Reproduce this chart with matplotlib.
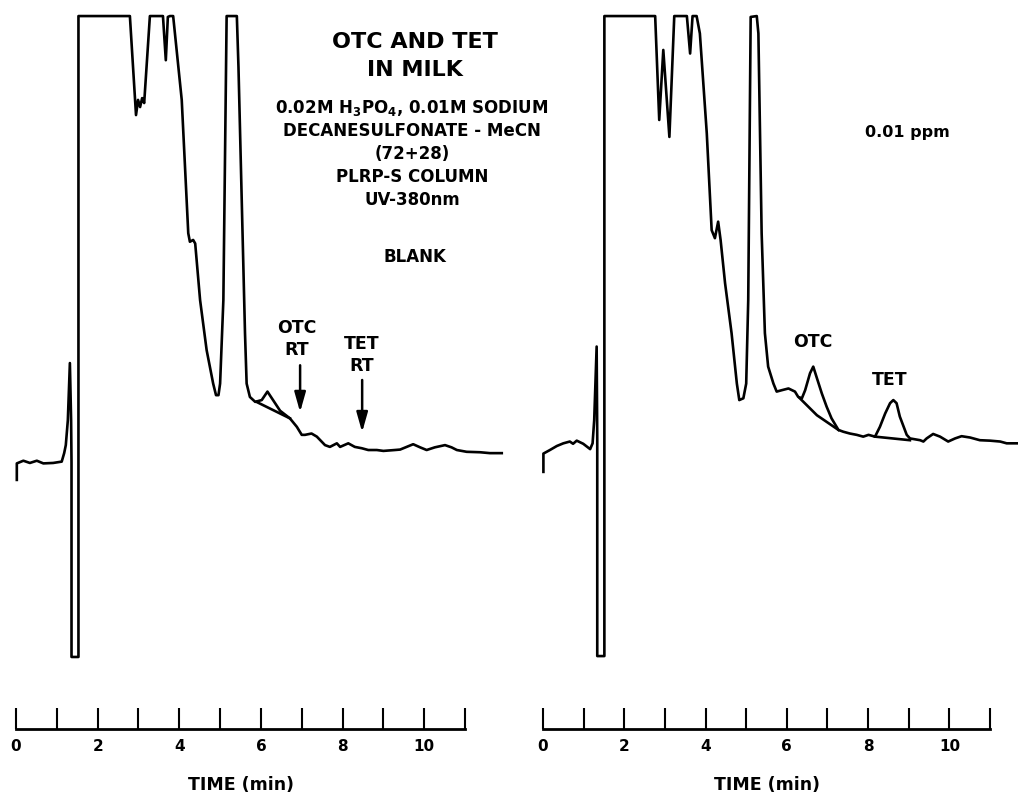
import matplotlib
matplotlib.use('Agg')
import matplotlib.pyplot as plt
import matplotlib.transforms as mtransforms

plt.rcParams['font.family'] = ['DejaVu Sans']
plt.rcParams['font.weight'] = 'bold'
plt.rcParams['mathtext.default'] = 'bf'

# blank milk chromatogram (time in min, detector response in % of full scale)
blank_time = [0.02, 0.02, 0.18, 0.34, 0.51, 0.67, 0.91, 1.12, 1.18, 1.22, 1.27, 1.32, 1.35, 1.36, 1.36,
              1.53, 1.53, 2.79, 2.94, 2.99, 3.04, 3.09, 3.14, 3.28, 3.60, 3.67, 3.72, 3.77, 3.85,
              4.06, 4.22, 4.26, 4.34, 4.39, 4.51, 4.67, 4.83, 4.90, 4.96, 5.00, 5.08, 5.16, 5.41,
              5.45, 5.53, 5.61, 5.65, 5.73, 5.86, 6.02, 6.16, 6.47, 6.71, 6.88, 7.00, 7.08,
              7.24, 7.37, 7.57, 7.69, 7.86, 7.94, 8.14, 8.30, 8.47, 8.63, 8.84, 9.00, 9.28, 9.41,
              9.57, 9.73, 9.90, 10.06, 10.26, 10.51, 10.67, 10.80, 11.04, 11.37, 11.61, 11.90]
blank_resp = [-4.0, -0.3, 0.3, -0.2, 0.3, -0.3, -0.2, 0.1, 2.0, 3.8, 9.4, 22.2, 9.4, 0.0, -43.7,
              -43.7, 100, 100, 77.8, 81.2, 79.6, 81.6, 80.5, 100, 100, 90.1, 99.8, 100, 100,
              81.2, 51.3, 49.4, 49.8, 49.0, 36.3, 25.1, 17.6, 15.0, 15.0, 17.6, 36.3, 100, 100,
              88.6, 58.7, 28.9, 17.6, 14.6, 13.5, 13.9, 15.8, 11.5, 9.8, 7.9, 6.1, 6.1,
              6.4, 5.7, 3.8, 3.4, 4.2, 3.4, 4.2, 3.4, 3.1, 2.7, 2.7, 2.5, 2.7, 2.8,
              3.4, 4.0, 3.3, 2.7, 3.3, 3.8, 3.3, 2.7, 2.3, 2.2, 2.0, 2.0]
blank_skim_time = [5.89, 6.71]
blank_skim_resp = [13.5, 9.8]

# spiked milk, 0.01 ppm
spiked_time = [0.01, 0.01, 0.17, 0.34, 0.50, 0.66, 0.74, 0.83, 0.99, 1.16, 1.22, 1.26, 1.32, 1.335, 1.335,
               1.51, 1.51, 2.76, 2.86, 2.96, 3.11, 3.23, 3.54, 3.62, 3.68, 3.78, 3.86, 4.03, 4.15,
               4.23, 4.31, 4.37, 4.48, 4.64, 4.77, 4.83, 4.93, 5.00, 5.05, 5.11, 5.26, 5.30, 5.38,
               5.46, 5.54, 5.67, 5.75, 5.87, 6.04, 6.20, 6.28, 6.37, 6.45, 6.57, 6.65, 6.73, 6.86,
               6.98, 7.10, 7.27, 7.39, 7.55, 7.72, 7.88, 8.01, 8.17, 8.29, 8.42, 8.54, 8.62, 8.70,
               8.78, 8.95, 9.03, 9.28, 9.36, 9.44, 9.60, 9.77, 9.97, 10.14, 10.30, 10.51, 10.75,
               11.00, 11.25, 11.41, 11.66]
spiked_resp = [-2.2, 1.9, 2.7, 3.6, 4.2, 4.6, 4.1, 4.8, 4.1, 2.9, 4.2, 9.4, 25.9, 5.0, -43.5,
               -43.5, 100, 100, 76.7, 92.4, 72.9, 100, 100, 91.6, 100, 100, 96.1, 73.7, 52.0,
               50.2, 53.9, 49.8, 40.1, 28.9, 17.6, 13.9, 14.3, 17.6, 36.3, 99.8, 100, 96.1, 51.3,
               28.9, 21.4, 17.6, 15.8, 16.1, 16.5, 15.8, 14.6, 14.3, 16.1, 19.9, 21.4, 19.1, 15.4,
               12.4, 9.8, 7.2, 6.8, 6.4, 6.1, 5.7, 6.1, 5.7, 7.9, 10.9, 13.2, 13.9, 13.2,
               10.2, 6.1, 5.3, 4.9, 4.6, 5.3, 6.3, 5.7, 4.6, 5.3, 5.8, 5.5, 4.9,
               4.8, 4.6, 4.2, 4.2]
otc_skim_time = [6.32, 6.74, 7.27]
otc_skim_resp = [14.3, 10.5, 7.2]
tet_skim_time = [8.17, 9.03]
tet_skim_resp = [5.7, 4.9]

time_ticks = list(range(12))
time_labels = [str(t) if t % 2 == 0 else '' for t in time_ticks]

subtitle_lines = [r'0.02M H$_3$PO$_4$, 0.01M SODIUM',
                  'DECANESULFONATE - MeCN',
                  '(72+28)',
                  'PLRP-S COLUMN',
                  'UV-380nm']

W, H = 1018, 793
fig = plt.figure(figsize=(W / 100, H / 100), dpi=100)

ylim = (-74.2, 103.6)
axis_level = -59.9


def make_axes(left_px, right_px, xlim):
    ax = fig.add_axes([left_px / W, 0, (right_px - left_px) / W, 1])
    ax.patch.set_visible(False)
    ax.set_xlim(*xlim)
    ax.set_ylim(*ylim)
    for side in ['top', 'right', 'left']:
        ax.spines[side].set_visible(False)
    ax.spines['bottom'].set_position(('data', axis_level))
    ax.spines['bottom'].set_bounds(0, 11)
    ax.spines['bottom'].set_linewidth(2.0)
    ax.set_yticks([])
    ax.set_xticks(time_ticks)
    ax.set_xticklabels(time_labels)
    ax.tick_params(axis='x', direction='in', length=15, width=1.5, pad=7, labelsize=11)
    ax.set_xlabel('TIME (min)', fontsize=12.5, fontweight='bold', va='center')
    ax.xaxis.set_label_coords(5.5, 1 - 785 / H,
                              transform=mtransforms.blended_transform_factory(ax.transData, ax.transAxes))
    return ax


ax1 = make_axes(16 - 0.3 * 40.82, 16 + 12.0 * 40.82, (-0.3, 12.0))
ax2 = make_axes(543 - 0.3 * 40.64, 543 + 11.75 * 40.64, (-0.3, 11.75))

lw = 1.9
ax1.plot(blank_time, blank_resp, color='k', lw=lw, solid_joinstyle='round')
ax1.plot(blank_skim_time, blank_skim_resp, color='k', lw=lw)

ax2.plot(spiked_time, spiked_resp, color='k', lw=lw, solid_joinstyle='round')
ax2.plot(otc_skim_time, otc_skim_resp, color='k', lw=lw)
ax2.plot(tet_skim_time, tet_skim_resp, color='k', lw=lw)

# retention time markers on blank
arrow = dict(arrowstyle='-|>,head_length=0.85,head_width=0.24', color='k', lw=1.8,
             mutation_scale=14, shrinkA=0, shrinkB=0)
ax1.text(6.88, 27.6, 'OTC\nRT', ha='center', va='center', fontsize=12.5, linespacing=1.25)
ax1.annotate('', xy=(6.96, 11.2), xytext=(6.96, 21.7), arrowprops=arrow)
ax1.text(8.48, 24.0, 'TET\nRT', ha='center', va='center', fontsize=12.5, linespacing=1.25)
ax1.annotate('', xy=(8.48, 6.7), xytext=(8.48, 18.4), arrowprops=arrow)

ax2.text(6.64, 26.9, 'OTC', ha='center', va='center', fontsize=12.5)
ax2.text(8.54, 18.4, 'TET', ha='center', va='center', fontsize=12.5)

fig.text(415 / W, 1 - 42 / H, 'OTC AND TET', ha='center', va='center', fontsize=16)
fig.text(415 / W, 1 - 70 / H, 'IN MILK', ha='center', va='center', fontsize=16)
for i, line in enumerate(subtitle_lines):
    fig.text(412 / W, 1 - (108 + 23 * i) / H, line, ha='center', va='center', fontsize=12)
fig.text(415 / W, 1 - 257 / H, 'BLANK', ha='center', va='center', fontsize=12)
fig.text(907 / W, 1 - 133 / H, '0.01 ppm', ha='center', va='center', fontsize=11.5)

fig.savefig('out.png', dpi=100)
